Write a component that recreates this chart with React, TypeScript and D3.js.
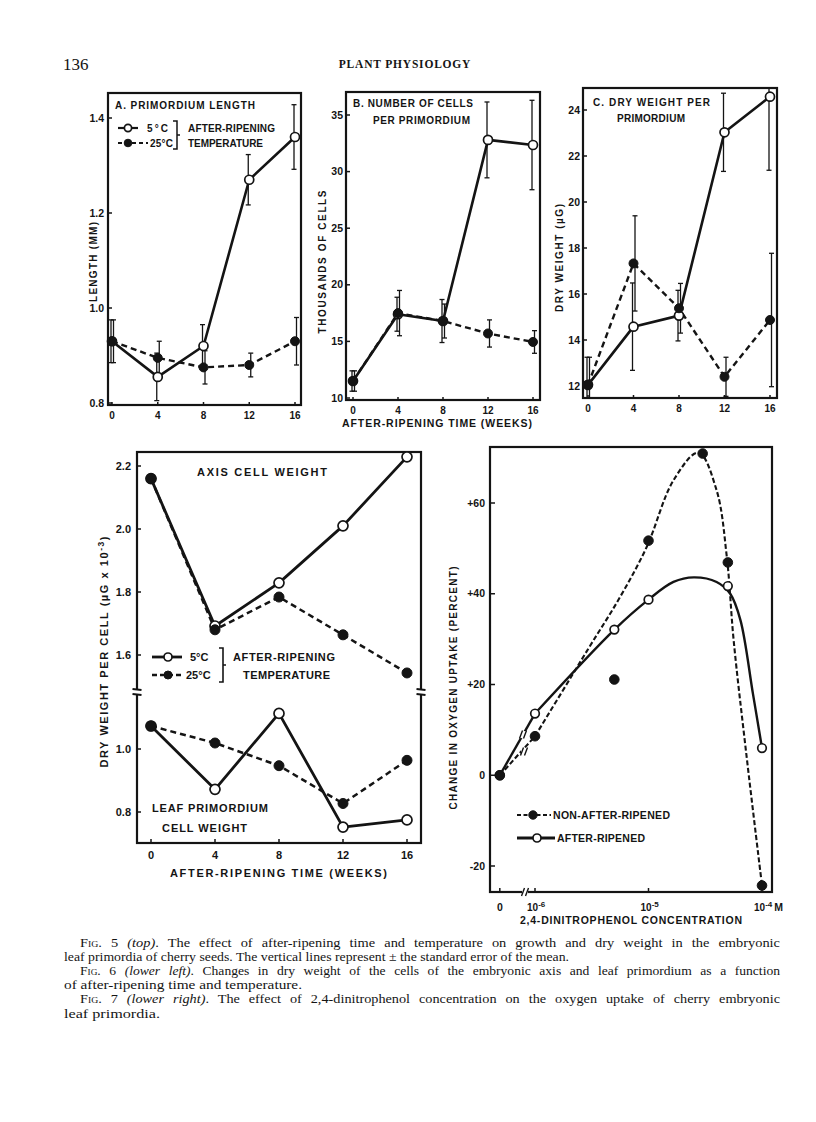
import React from 'react';
import * as d3 from 'd3';

// ---------- DATA ----------
const weeks = [0, 4, 8, 12, 16];

// Fig 5A primordium length (mm)
const lengthCold = [0.93, 0.855, 0.92, 1.27, 1.36];
const lengthColdSe = [0.045, 0.05, 0.045, 0.053, 0.068];
const lengthWarm = [0.93, 0.895, 0.875, 0.88, 0.93];
const lengthWarmSe = [0.045, 0.035, 0.035, 0.025, 0.05];
const lengthTicks = [0.8, 1.0, 1.2, 1.4];

// Fig 5B cells per primordium (thousands)
const cellsCold = [11.5, 17.4, 16.8, 32.8, 32.35];
const cellsColdSe = [0.9, 1.5, 1.9, 3.35, 3.95];
const cellsWarm = [11.5, 17.5, 16.8, 15.7, 14.95];
const cellsWarmSe = [0.9, 2.0, 1.5, 1.2, 1.0];
const cellsTicks = [10, 15, 20, 25, 30, 35];

// Fig 5C dry weight per primordium (µg)
const dryCold = [12.05, 14.58, 15.06, 23.03, 24.58];
const dryColdSe = [1.2, 1.9, 1.1, 1.7, 3.2];
const dryWarm = [12.05, 17.33, 15.38, 12.4, 14.87];
const dryWarmSe = [1.2, 2.07, 1.08, 0.85, 2.9];
const dryTicks = [12, 14, 16, 18, 20, 22, 24];

// Fig 6 dry weight per cell (µg x 10^-3)
const axisCold = [2.16, 1.692, 1.829, 2.01, 2.229];
const axisWarm = [2.16, 1.68, 1.784, 1.664, 1.543];
const leafCold = [1.073, 0.872, 1.113, 0.752, 0.775];
const leafWarm = [1.073, 1.019, 0.947, 0.827, 0.964];
const axisTicks = [1.6, 1.8, 2.0, 2.2];
const leafTicks = [0.8, 1.0];

// Fig 7 oxygen uptake change (%) vs 2,4-DNP concentration (M)
const concNonAfter = [0, 1e-6, 5e-6, 1e-5, 3e-5, 5e-5, 1e-4];
const uptakeNonAfter = [0, 8.6, 21.1, 51.7, 70.9, 46.9, -24.3];
const concAfter = [0, 1e-6, 5e-6, 1e-5, 5e-5, 1e-4];
const uptakeAfter = [0, 13.6, 32.1, 38.7, 41.7, 6.0];
// hand-drawn smooth curves (log10 concentration, %)
const curveNonLog = [-6, -5.53, -5.25, -5.016, -4.78, -4.56, -4.4, -4.31, -4.25, -4.135, -4.0];
const curveNonVal = [8.6, 27.9, 39.3, 50.3, 65.0, 71.1, 62.8, 48.1, 29.8, 4, -24.3];
const curveAfterLog = [-6, -5.3, -5.0, -4.78, -4.6, -4.4, -4.28, -4.19, -4.08, -4.0];
const curveAfterVal = [13.6, 32.1, 38.7, 42.6, 43.6, 42.6, 40.0, 34.2, 18.0, 6.0];
const uptakeTicks = [-20, 0, 20, 40, 60];
const concTickLogs = [-6, -5, -4];
const concTickExps = ['-6', '-5', '-4'];

const captionLines = [
  { lead: 'Fig. 5', it: '(top)', rest: '. The effect of after-ripening time and temperature on growth and dry weight in the embryonic' },
  { text: 'leaf primordia of cherry seeds. The vertical lines represent \u00b1 the standard error of the mean.', end: 569 },
  { lead: 'Fig. 6', it: '(lower left)', rest: '. Changes in dry weight of the cells of the embryonic axis and leaf primordium as a function' },
  { text: 'of after-ripening time and temperature.', end: 302 },
  { lead: 'Fig. 7', it: '(lower right)', rest: '. The effect of 2,4-dinitrophenol concentration on the oxygen uptake of cherry embryonic' },
  { text: 'leaf primordia.', end: 160 },
];

// ---------- STYLE ----------
const SANS = "'Liberation Sans', 'DejaVu Sans', Arial, sans-serif";
const SERIF = "'Liberation Serif', 'DejaVu Serif', 'Times New Roman', serif";
const INK = '#141414';
const CAP_SIZE = 13.2;

const solid = { stroke: INK, strokeWidth: 2.6, fill: 'none', strokeLinejoin: 'round' as const };
const dashed = { stroke: INK, strokeWidth: 2.4, fill: 'none', strokeDasharray: '6 4' };

function Lbl(p: any) {
  const { children, len, ...rest } = p;
  return (
    <text fontFamily={SANS} fontWeight="bold" fontSize={10} fill={INK}
      {...(len ? { textLength: len, lengthAdjust: 'spacing' } : {})} {...rest}>
      {children}
    </text>
  );
}

function Dot({ cx, cy, open, r = 4.5 }: any) {
  return <circle cx={cx} cy={cy} r={r} fill={open ? '#fff' : INK} stroke={INK} strokeWidth={open ? 1.7 : 1} />;
}

function Fig5Panel(props: any) {
  const { id, frame, xRange, yDomain, yRange, yTicks, fmt, labelRight, cold, coldSe, warm, warmSe } = props;
  const [fx0, fy0, fx1, fy1] = frame;
  const x = d3.scaleLinear().domain([0, 16]).range(xRange);
  const y = d3.scaleLinear().domain(yDomain).range(yRange);
  const line = d3.line<number>().x((_, i) => x(weeks[i])).y((d) => y(d));
  const bars = (vals: number[], se: number[], dx: number) =>
    vals.map((v, i) => {
      const xx = x(weeks[i]) + dx;
      const a = y(v - se[i]);
      const b = y(v + se[i]);
      return (
        <g key={i} stroke={INK} strokeWidth={1.3}>
          <line x1={xx} x2={xx} y1={a} y2={b} />
          <line x1={xx - 2.5} x2={xx + 2.5} y1={a} y2={a} />
          <line x1={xx - 2.5} x2={xx + 2.5} y1={b} y2={b} />
        </g>
      );
    });
  return (
    <g>
      <defs>
        <clipPath id={id}>
          <rect x={fx0} y={fy0} width={fx1 - fx0} height={fy1 - fy0} />
        </clipPath>
      </defs>
      <g clipPath={`url(#${id})`}>
        {bars(warm, warmSe, 1.5)}
        {bars(cold, coldSe, -1)}
      </g>
      <path d={line(warm) || ''} {...dashed} />
      <path d={line(cold) || ''} {...solid} />
      {cold.map((v: number, i: number) => <Dot key={'c' + i} cx={x(weeks[i])} cy={y(v)} open />)}
      {warm.map((v: number, i: number) => <Dot key={'w' + i} cx={x(weeks[i])} cy={y(v)} />)}
      <rect x={fx0} y={fy0} width={fx1 - fx0} height={fy1 - fy0} fill="none" stroke={INK} strokeWidth={2.2} />
      {yTicks.map((t: number) => (
        <g key={t}>
          <line x1={fx0} x2={fx0 + 4} y1={y(t)} y2={y(t)} stroke={INK} strokeWidth={1.5} />
          <Lbl x={labelRight} y={y(t)} dy="0.35em" textAnchor="end" fontSize={10.5}>{fmt(t)}</Lbl>
        </g>
      ))}
      {weeks.map((w) => (
        <g key={w}>
          <line x1={x(w)} x2={x(w)} y1={fy1} y2={fy1 - 3} stroke={INK} strokeWidth={1.5} />
          <Lbl x={x(w)} y={fy1 + 10} dy="0.35em" textAnchor="middle" fontSize={10}>{String(w)}</Lbl>
        </g>
      ))}
    </g>
  );
}

function Fig6() {
  const fx0 = 137, fy0 = 452, fx1 = 421, fy1 = 843, brk = 692;
  const x = d3.scaleLinear().domain([0, 16]).range([151, 407]);
  const yU = d3.scaleLinear().domain([1.6, 2.2]).range([655, 466]);
  const yL = d3.scaleLinear().domain([0.8, 1.0]).range([812, 749]);
  const lineU = d3.line<number>().x((_, i) => x(weeks[i])).y((d) => yU(d));
  const lineL = d3.line<number>().x((_, i) => x(weeks[i])).y((d) => yL(d));
  const fmt = d3.format('.1f');
  const breakMark = (bx: number) => (
    <g key={bx}>
      <rect x={bx - 3} y={brk - 2} width={6} height={4} fill="#fff" />
      <line x1={bx - 4.5} x2={bx + 4.5} y1={brk - 3} y2={brk - 2} stroke={INK} strokeWidth={1.8} />
      <line x1={bx - 4.5} x2={bx + 4.5} y1={brk + 2} y2={brk + 3} stroke={INK} strokeWidth={1.8} />
    </g>
  );
  return (
    <g>
      <rect x={fx0} y={fy0} width={fx1 - fx0} height={fy1 - fy0} fill="none" stroke={INK} strokeWidth={2.2} />
      {breakMark(fx0)}
      {breakMark(fx1)}
      <path d={lineU(axisWarm) || ''} {...dashed} strokeWidth={2.5} />
      <path d={lineU(axisCold) || ''} {...solid} strokeWidth={2.8} />
      <path d={lineL(leafWarm) || ''} {...dashed} strokeWidth={2.5} />
      <path d={lineL(leafCold) || ''} {...solid} strokeWidth={2.8} />
      {axisCold.map((v, i) => <Dot key={'ac' + i} cx={x(weeks[i])} cy={yU(v)} open r={5} />)}
      {axisWarm.map((v, i) => <Dot key={'aw' + i} cx={x(weeks[i])} cy={yU(v)} r={5} />)}
      {leafCold.map((v, i) => <Dot key={'lc' + i} cx={x(weeks[i])} cy={yL(v)} open r={5} />)}
      {leafWarm.map((v, i) => <Dot key={'lw' + i} cx={x(weeks[i])} cy={yL(v)} r={5} />)}
      {axisTicks.map((t) => (
        <g key={'u' + t}>
          <line x1={fx0} x2={fx0 + 4} y1={yU(t)} y2={yU(t)} stroke={INK} strokeWidth={1.5} />
          <Lbl x={131} y={yU(t)} dy="0.35em" textAnchor="end" fontSize={11}>{fmt(t)}</Lbl>
        </g>
      ))}
      {leafTicks.map((t) => (
        <g key={'l' + t}>
          <line x1={fx0} x2={fx0 + 4} y1={yL(t)} y2={yL(t)} stroke={INK} strokeWidth={1.5} />
          <Lbl x={131} y={yL(t)} dy="0.35em" textAnchor="end" fontSize={11}>{fmt(t)}</Lbl>
        </g>
      ))}
      {weeks.map((w) => (
        <g key={w}>
          <line x1={x(w)} x2={x(w)} y1={fy1} y2={fy1 - 4} stroke={INK} strokeWidth={1.5} />
          <Lbl x={x(w)} y={855} dy="0.35em" textAnchor="middle" fontSize={11}>{String(w)}</Lbl>
        </g>
      ))}
      <Lbl x={170} y={873} dy="0.35em" fontSize={11} len={217}>AFTER-RIPENING  TIME  (WEEKS)</Lbl>
      <Lbl transform="translate(104,652) rotate(-90)" textAnchor="middle" dy="0.35em" fontSize={11} len={231}>
        DRY WEIGHT PER CELL (µG x 10<tspan dy="-4" fontSize={8.5}>-3</tspan><tspan dy="4">)</tspan>
      </Lbl>
      <Lbl x={197} y={472} dy="0.35em" fontSize={11} len={130}>AXIS CELL WEIGHT</Lbl>
      <Lbl x={152} y={808} dy="0.35em" fontSize={11} len={116}>LEAF PRIMORDIUM</Lbl>
      <Lbl x={162} y={828} dy="0.35em" fontSize={11} len={85}>CELL WEIGHT</Lbl>
      {/* legend */}
      <line x1={152} x2={182} y1={657} y2={657} {...solid} strokeWidth={2.8} />
      <Dot cx={168} cy={657} open r={4} />
      <line x1={152} x2={182} y1={675} y2={675} {...dashed} strokeDasharray="5 3" />
      <Dot cx={168} cy={675} r={4} />
      <Lbl x={190} y={657} dy="0.35em" fontSize={11}>5°C</Lbl>
      <Lbl x={186} y={675} dy="0.35em" fontSize={11}>25°C</Lbl>
      <path d="M219,648 h4 v34 h-4 M223,665 h3" fill="none" stroke={INK} strokeWidth={1.6} />
      <Lbl x={233} y={657} dy="0.35em" fontSize={11} len={102}>AFTER-RIPENING</Lbl>
      <Lbl x={243} y={675} dy="0.35em" fontSize={11} len={87}>TEMPERATURE</Lbl>
    </g>
  );
}

function Fig7() {
  const fx0 = 490, fy0 = 447, fx1 = 772, fy1 = 892;
  const ZERO_LOG = -6.31;
  const xL = d3.scaleLinear().domain([-6, -4]).range([535, 762]);
  const xc = (c: number) => xL(c === 0 ? ZERO_LOG : Math.log10(c));
  const y = d3.scaleLinear().domain([-20, 60]).range([866, 503]);
  const curve = d3.line<number>().curve(d3.curveCatmullRom.alpha(0.5));
  const nonPts = curveNonLog.map((l, i) => [xL(l), y(curveNonVal[i])] as [number, number]);
  const aftPts = curveAfterLog.map((l, i) => [xL(l), y(curveAfterVal[i])] as [number, number]);
  const zx = xc(0), zy = y(0);
  const breakX = 523;
  const interp = (x1: number, y1: number) => zy + ((y1 - zy) * (breakX - zx)) / (x1 - zx);
  const dash7 = '5 2.5';
  const slashes = (cx: number, cy: number, key: string) => (
    <g key={key} stroke={INK} strokeWidth={1.4}>
      <rect x={cx - 3} y={cy - 3.5} width={6} height={7} fill="#fff" stroke="none" />
      <line x1={cx - 3.5} y1={cy + 4} x2={cx - 0.5} y2={cy - 4} />
      <line x1={cx + 0.5} y1={cy + 4} x2={cx + 3.5} y2={cy - 4} />
    </g>
  );
  return (
    <g>
      <rect x={fx0} y={fy0} width={fx1 - fx0} height={fy1 - fy0} fill="none" stroke={INK} strokeWidth={2.2} />
      <line x1={zx} y1={zy} x2={xL(-6)} y2={y(uptakeNonAfter[1])} stroke={INK} strokeWidth={2.1} strokeDasharray={dash7} />
      <line x1={zx} y1={zy} x2={xL(-6)} y2={y(uptakeAfter[1])} stroke={INK} strokeWidth={2.4} />
      <path d={curve(nonPts) || ''} fill="none" stroke={INK} strokeWidth={2.1} strokeDasharray={dash7} />
      <path d={curve(aftPts) || ''} fill="none" stroke={INK} strokeWidth={2.4} />
      {slashes(breakX, interp(xL(-6), y(uptakeAfter[1])), 'sa')}
      {slashes(breakX + 1, interp(xL(-6), y(uptakeNonAfter[1])) + 2, 'sn')}
      {slashes(breakX + 2, fy1, 'sx')}
      {concAfter.map((c, i) => <Dot key={'a' + i} cx={xc(c)} cy={y(uptakeAfter[i])} open r={4.3} />)}
      {concNonAfter.map((c, i) => <Dot key={'n' + i} cx={xc(c)} cy={y(uptakeNonAfter[i])} r={4.8} />)}
      {uptakeTicks.map((t) => (
        <g key={t}>
          <line x1={fx0} x2={fx0 + 5} y1={y(t)} y2={y(t)} stroke={INK} strokeWidth={1.5} />
          <Lbl x={485} y={y(t)} dy="0.35em" textAnchor="end" fontSize={10.5}>{t > 0 ? '+' + t : String(t)}</Lbl>
        </g>
      ))}
      <line x1={zx} x2={zx} y1={fy1} y2={fy1 - 4} stroke={INK} strokeWidth={1.5} />
      <Lbl x={zx} y={907} dy="0.35em" textAnchor="middle" fontSize={10.5}>0</Lbl>
      {concTickLogs.map((l, i) => (
        <g key={l}>
          <line x1={xL(l)} x2={xL(l)} y1={fy1} y2={fy1 - 4} stroke={INK} strokeWidth={1.5} />
          <Lbl x={xL(l) - 8} y={907} dy="0.35em" fontSize={10}>
            10<tspan dy="-4" fontSize={8}>{concTickExps[i]}</tspan>
            {i === concTickLogs.length - 1 ? <tspan dy="4" dx="2" fontSize={10.5}>M</tspan> : null}
          </Lbl>
        </g>
      ))}
      <Lbl x={520} y={920} dy="0.35em" fontSize={10.5} len={222}>2,4-DINITROPHENOL  CONCENTRATION</Lbl>
      <Lbl transform="translate(453,688) rotate(-90)" textAnchor="middle" dy="0.35em" fontSize={10} len={243}>
        CHANGE IN OXYGEN UPTAKE (PERCENT)
      </Lbl>
      {/* legend */}
      <line x1={517} x2={551} y1={815} y2={815} stroke={INK} strokeWidth={2.2} strokeDasharray="4 2.5" />
      <Dot cx={533} cy={815} r={4.2} />
      <Lbl x={553} y={815} dy="0.35em" fontSize={10.5} len={117}>NON-AFTER-RIPENED</Lbl>
      <line x1={517} x2={555} y1={838} y2={838} stroke={INK} strokeWidth={2.8} />
      <Dot cx={537} cy={838} open r={4} />
      <Lbl x={557} y={838} dy="0.35em" fontSize={10.5} len={88}>AFTER-RIPENED</Lbl>
    </g>
  );
}

function Caption() {
  return (
    <g>
      {captionLines.map((l: any, i) => {
        const y = 947 + i * 14.1;
        if (l.text) {
          return (
            <text key={i} x={64} y={y} fontFamily={SERIF} fontSize={CAP_SIZE} fill={INK}
              textLength={l.end - 64} lengthAdjust="spacingAndGlyphs">{l.text}</text>
          );
        }
        return (
          <text key={i} x={80} y={y} fontFamily={SERIF} fontSize={CAP_SIZE} fill={INK}
            wordSpacing={5} textLength={700} lengthAdjust="spacingAndGlyphs">
            <tspan fontVariant="small-caps">{l.lead}</tspan>
            <tspan>{'  '}</tspan>
            <tspan fontStyle="italic">{l.it}</tspan>
            <tspan>{l.rest}</tspan>
          </text>
        );
      })}
    </g>
  );
}

export default function App() {
  const f1 = d3.format('.1f');
  const f0 = d3.format('d');
  return (
    <svg width={816} height={1122} viewBox="0 0 816 1122"
      style={{ position: 'absolute', left: 0, top: 0, background: '#fff' }}>
      <rect x={0} y={0} width={816} height={1122} fill="#fff" />
      {/* header */}
      <text x={63} y={70} fontFamily={SERIF} fontSize={17} fill={INK}>136</text>
      <text x={405} y={68} fontFamily={SERIF} fontSize={11.5} fontWeight="bold" letterSpacing={0.8}
        textAnchor="middle" fill={INK}>PLANT PHYSIOLOGY</text>

      {/* Fig 5A */}
      <Fig5Panel id="clipA" frame={[108, 93, 301, 405]} xRange={[112, 295]} yDomain={[0.8, 1.4]} yRange={[403, 118]}
        yTicks={lengthTicks} fmt={f1} labelRight={104}
        cold={lengthCold} coldSe={lengthColdSe} warm={lengthWarm} warmSe={lengthWarmSe} />
      <Lbl x={115} y={105} dy="0.35em" len={140}>A. PRIMORDIUM  LENGTH</Lbl>
      <line x1={118} x2={138} y1={128} y2={128} {...solid} strokeWidth={2.2} />
      <Dot cx={128} cy={128} open r={3.6} />
      <line x1={118} x2={148} y1={143} y2={143} {...dashed} strokeWidth={2} strokeDasharray="4 3" />
      <Dot cx={128} cy={143} r={3.8} />
      <Lbl x={147} y={128} dy="0.35em" len={21}>5°C</Lbl>
      <Lbl x={150} y={143} dy="0.35em" len={23}>25°C</Lbl>
      <path d="M173,121 h4 v28 h-4 M177,135 h3" fill="none" stroke={INK} strokeWidth={1.5} />
      <Lbl x={188} y={128} dy="0.35em" len={87}>AFTER-RIPENING</Lbl>
      <Lbl x={188} y={143} dy="0.35em" len={75}>TEMPERATURE</Lbl>
      <Lbl transform="translate(93,262) rotate(-90)" textAnchor="middle" dy="0.35em" len={80}>LENGTH (MM)</Lbl>

      {/* Fig 5B */}
      <Fig5Panel id="clipB" frame={[346, 92, 540, 400]} xRange={[353, 533]} yDomain={[10, 35]} yRange={[398, 115]}
        yTicks={cellsTicks} fmt={f0} labelRight={343}
        cold={cellsCold} coldSe={cellsColdSe} warm={cellsWarm} warmSe={cellsWarmSe} />
      <Lbl x={353} y={103} dy="0.35em" len={120}>B. NUMBER OF CELLS</Lbl>
      <Lbl x={373} y={120} dy="0.35em" len={97}>PER PRIMORDIUM</Lbl>
      <Lbl x={342} y={423} dy="0.35em" fontSize={10.5} len={190}>AFTER-RIPENING  TIME  (WEEKS)</Lbl>
      <Lbl transform="translate(322,262) rotate(-90)" textAnchor="middle" dy="0.35em" len={143}>THOUSANDS OF CELLS</Lbl>

      {/* Fig 5C */}
      <Fig5Panel id="clipC" frame={[583, 88, 777, 398]} xRange={[588, 770]} yDomain={[12, 24]} yRange={[386, 110]}
        yTicks={dryTicks} fmt={f0} labelRight={580}
        cold={dryCold} coldSe={dryColdSe} warm={dryWarm} warmSe={dryWarmSe} />
      <Lbl x={593} y={102} dy="0.35em" len={117}>C. DRY WEIGHT PER</Lbl>
      <Lbl x={617} y={118} dy="0.35em" len={68}>PRIMORDIUM</Lbl>
      <Lbl transform="translate(559,258) rotate(-90)" textAnchor="middle" dy="0.35em" len={108}>DRY WEIGHT (µG)</Lbl>

      <Fig6 />
      <Fig7 />
      <Caption />
    </svg>
  );
}
